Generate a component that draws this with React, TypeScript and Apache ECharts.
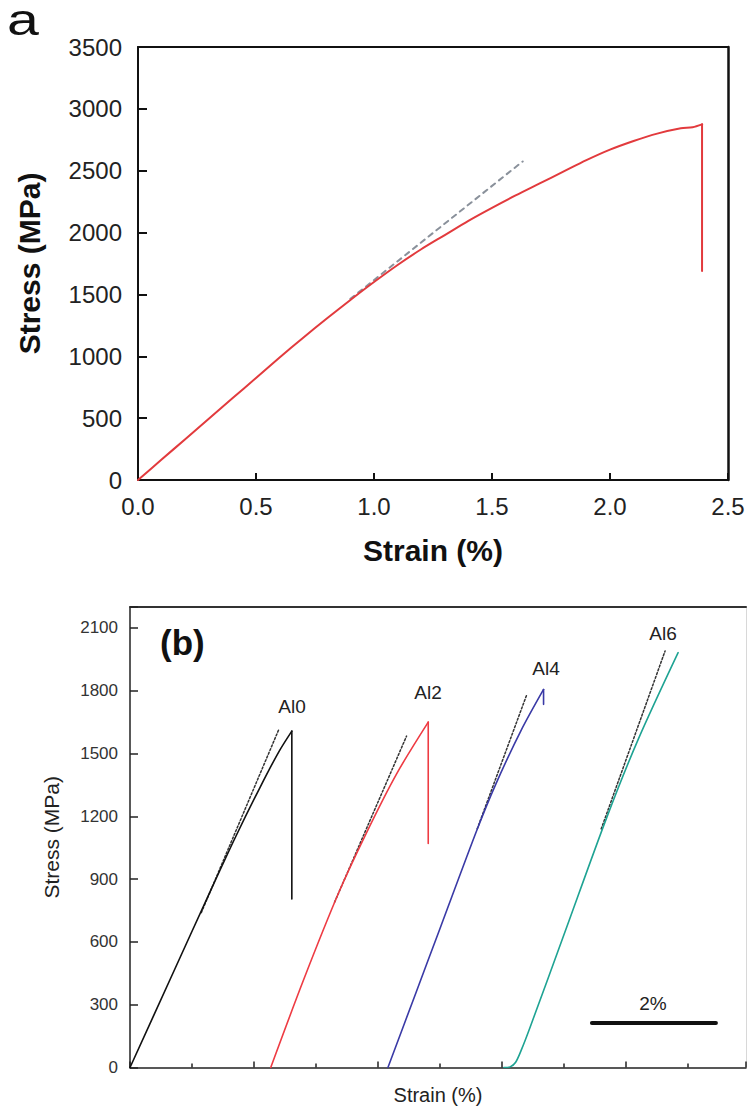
import React, { useEffect, useRef } from "react";
import * as echarts from "echarts";

// ---------- Panel (a) data ----------
const strainA = [0, 0.1, 0.2, 0.3, 0.4, 0.5, 0.6, 0.7, 0.8, 0.9, 1.0, 1.1, 1.2, 1.3, 1.4, 1.5, 1.6, 1.7, 1.8, 1.9, 2.0, 2.1, 2.2, 2.3, 2.35, 2.39, 2.39];
const stressA = [0, 165, 330, 495, 660, 825, 990, 1150, 1305, 1455, 1600, 1738, 1865, 1980, 2095, 2200, 2300, 2395, 2490, 2585, 2670, 2740, 2800, 2843, 2852, 2875, 1690];
const tangentAStrain = [0.9, 1.63];
const tangentAStress = [1464, 2575];

// ---------- Panel (b) data ----------
const al0Strain = [0, 0.65, 1.3, 1.7, 2.1, 2.4, 2.61, 2.61];
const al0Stress = [0, 423, 845, 1100, 1340, 1508, 1607, 805];
const al2Strain = [2.27, 2.8, 3.36, 3.8, 4.3, 4.81, 4.81];
const al2Stress = [0, 419, 831, 1113, 1403, 1650, 1070];
const al4Strain = [4.16, 4.6, 5.0, 5.6, 5.9, 6.3, 6.67, 6.67];
const al4Stress = [0, 348, 664, 1138, 1354, 1606, 1806, 1735];
const al6Strain = [6.03, 6.13, 6.22, 6.32, 6.45, 7.0, 7.69, 8.2, 8.84];
const al6Stress = [0, 3, 25, 90, 190, 635, 1195, 1570, 1982];

const tan0Strain = [1.15, 2.4];
const tan0Stress = [740, 1615];
const tan2Strain = [3.3, 4.46];
const tan2Stress = [790, 1583];
const tan4Strain = [5.6, 6.4];
const tan4Stress = [1140, 1782];
const tan6Strain = [7.6, 8.63];
const tan6Stress = [1140, 1990];

const scaleBarStrain = [7.45, 9.45];
const scaleBarStress = [213, 213];

const seriesLabels = ["Al0", "Al2", "Al4", "Al6"];

const zip = (xs: number[], ys: number[]) => xs.map((x, i) => [x, ys[i]]);

const FONT = 'Arial, "Liberation Sans", Helvetica, sans-serif';

export default function App() {
  const ref = useRef<HTMLDivElement>(null);

  useEffect(() => {
    if (!ref.current) return;
    const chart = echarts.init(ref.current, undefined, { renderer: "svg" });

    const lineSeries = (
      data: number[][],
      color: string,
      width: number,
      type: any,
      xi: number,
      yi: number,
      z: number,
      smooth: number | boolean = false
    ) => ({
      type: "line",
      xAxisIndex: xi,
      yAxisIndex: yi,
      data,
      showSymbol: false,
      symbol: "none",
      silent: true,
      smooth,
      z,
      lineStyle: { color, width, type, cap: "round", join: "round" },
    });

    // a curve that rises smoothly and ends with a straight vertical fracture drop
    const curveWithDrop = (
      xs: number[],
      ys: number[],
      color: string,
      width: number,
      xi: number,
      yi: number
    ) => {
      const d = zip(xs, ys);
      return [
        lineSeries(d.slice(0, -1), color, width, "solid", xi, yi, 2, 0.3),
        lineSeries(d.slice(-2), color, width, "solid", xi, yi, 2, false),
      ];
    };

    const option: any = {
      animation: false,
      backgroundColor: "#ffffff",
      textStyle: { fontFamily: FONT },
      grid: [
        { left: 138, top: 47, width: 590, height: 433 },
        { left: 130, top: 607, width: 616, height: 460.5 },
      ],
      xAxis: [
        {
          gridIndex: 0,
          type: "value",
          min: 0,
          max: 2.5,
          interval: 0.5,
          position: "bottom",
          axisLine: { show: true, onZero: false, lineStyle: { color: "#111", width: 2 } },
          axisTick: { show: true, inside: true, length: 7, lineStyle: { color: "#111", width: 2 } },
          axisLabel: {
            fontSize: 24,
            color: "#222",
            margin: 14,
            fontFamily: FONT,
            formatter: (v: number) => v.toFixed(1),
          },
          splitLine: { show: false },
          name: "Strain (%)",
          nameLocation: "middle",
          nameGap: 55,
          nameTextStyle: { fontSize: 30, fontWeight: "bold", color: "#111", fontFamily: FONT },
        },
        {
          gridIndex: 0,
          type: "value",
          min: 0,
          max: 2.5,
          position: "top",
          axisLine: { show: true, onZero: false, lineStyle: { color: "#111", width: 2 } },
          axisTick: { show: false },
          axisLabel: { show: false },
          splitLine: { show: false },
        },
        {
          gridIndex: 1,
          type: "value",
          min: 0,
          max: 9.935,
          interval: 2,
          position: "bottom",
          axisLine: { show: true, onZero: false, lineStyle: { color: "#222", width: 1.5 } },
          axisTick: { show: true, inside: true, length: 6, lineStyle: { color: "#222", width: 1.5 } },
          minorTick: { show: true, splitNumber: 2, length: 4, lineStyle: { color: "#222", width: 1.5 } },
          axisLabel: { show: false },
          splitLine: { show: false },
          name: "Strain (%)",
          nameLocation: "middle",
          nameGap: 17,
          nameTextStyle: { fontSize: 20, color: "#222", fontFamily: FONT },
        },
        {
          gridIndex: 1,
          type: "value",
          min: 0,
          max: 9.935,
          position: "top",
          axisLine: { show: true, onZero: false, lineStyle: { color: "#333", width: 2 } },
          axisTick: { show: false },
          axisLabel: { show: false },
          splitLine: { show: false },
        },
      ],
      yAxis: [
        {
          gridIndex: 0,
          type: "value",
          min: 0,
          max: 3500,
          interval: 500,
          position: "left",
          axisLine: { show: true, onZero: false, lineStyle: { color: "#111", width: 2 } },
          axisTick: { show: true, inside: true, length: 9, lineStyle: { color: "#111", width: 2 } },
          axisLabel: {
            fontSize: 24,
            color: "#222",
            margin: 16,
            fontFamily: FONT,
            formatter: (v: number) => String(v),
          },
          splitLine: { show: false },
          name: "Stress (MPa)",
          nameLocation: "middle",
          nameGap: 94,
          nameTextStyle: { fontSize: 30, fontWeight: "bold", color: "#111", fontFamily: FONT },
        },
        {
          gridIndex: 0,
          type: "value",
          min: 0,
          max: 3500,
          position: "right",
          axisLine: { show: true, onZero: false, lineStyle: { color: "#111", width: 2.5 } },
          axisTick: { show: false },
          axisLabel: { show: false },
          splitLine: { show: false },
        },
        {
          gridIndex: 1,
          type: "value",
          min: 0,
          max: 2200,
          interval: 300,
          position: "left",
          axisLine: { show: true, onZero: false, lineStyle: { color: "#222", width: 1.5 } },
          axisTick: { show: true, inside: true, length: 8, lineStyle: { color: "#222", width: 1.5 } },
          axisLabel: {
            fontSize: 17,
            color: "#333",
            margin: 12,
            fontFamily: FONT,
            formatter: (v: number) => (v % 300 === 0 ? String(v) : ""),
          },
          splitLine: { show: false },
          name: "Stress (MPa)",
          nameLocation: "middle",
          nameGap: 68,
          nameTextStyle: { fontSize: 21, color: "#222", fontFamily: FONT },
        },
        {
          gridIndex: 1,
          type: "value",
          min: 0,
          max: 2200,
          position: "right",
          axisLine: { show: true, onZero: false, lineStyle: { color: "#d8d8d8", width: 1 } },
          axisTick: { show: false },
          axisLabel: { show: false },
          splitLine: { show: false },
        },
      ],
      series: [
        // panel a
        lineSeries(zip(tangentAStrain, tangentAStress), "#8a919b", 2, [5, 5], 0, 0, 1),
        ...curveWithDrop(strainA, stressA, "#e23a3d", 2, 0, 0),
        // panel b tangents
        lineSeries(zip(tan0Strain, tan0Stress), "#333", 1.5, [2, 2], 2, 2, 1),
        lineSeries(zip(tan2Strain, tan2Stress), "#333", 1.5, [2, 2], 2, 2, 1),
        lineSeries(zip(tan4Strain, tan4Stress), "#333", 1.5, [2, 2], 2, 2, 1),
        lineSeries(zip(tan6Strain, tan6Stress), "#333", 1.5, [2, 2], 2, 2, 1),
        // panel b curves
        ...curveWithDrop(al0Strain, al0Stress, "#111111", 1.6, 2, 2),
        ...curveWithDrop(al2Strain, al2Stress, "#ee3b43", 1.6, 2, 2),
        ...curveWithDrop(al4Strain, al4Stress, "#3a3aa6", 1.6, 2, 2),
        lineSeries(zip(al6Strain, al6Stress), "#1ea393", 1.6, "solid", 2, 2, 2, 0.3),
        // scale bar
        lineSeries(zip(scaleBarStrain, scaleBarStress), "#111", 4, "solid", 2, 2, 3),
      ],
      graphic: [
        {
          type: "text",
          x: 7,
          y: 20,
          scaleX: 1.3,
          style: {
            text: "a",
            font: `44px ${FONT}`,
            lineHeight: 24,
            fill: "#111",
            verticalAlign: "middle",
          },
        },
        {
          type: "text",
          x: 160,
          y: 642,
          style: {
            text: "(b)",
            font: `bold 35px ${FONT}`,
            fill: "#111",
            verticalAlign: "middle",
          },
        },
        ...[
          [292, 706],
          [428, 692],
          [546, 668],
          [663, 633],
        ].map((p, i) => ({
          type: "text",
          x: p[0],
          y: p[1],
          style: {
            text: seriesLabels[i],
            font: `19px ${FONT}`,
            fill: "#222",
            align: "center",
            verticalAlign: "middle",
          },
        })),
        {
          type: "text",
          x: 653,
          y: 1003,
          style: {
            text: "2%",
            font: `19px ${FONT}`,
            fill: "#222",
            align: "center",
            verticalAlign: "middle",
          },
        },
      ],
    };

    chart.setOption(option);
    return () => chart.dispose();
  }, []);

  return (
    <div
      ref={ref}
      style={{ position: "absolute", left: 0, top: 0, width: 748, height: 1110, background: "#fff" }}
    />
  );
}
